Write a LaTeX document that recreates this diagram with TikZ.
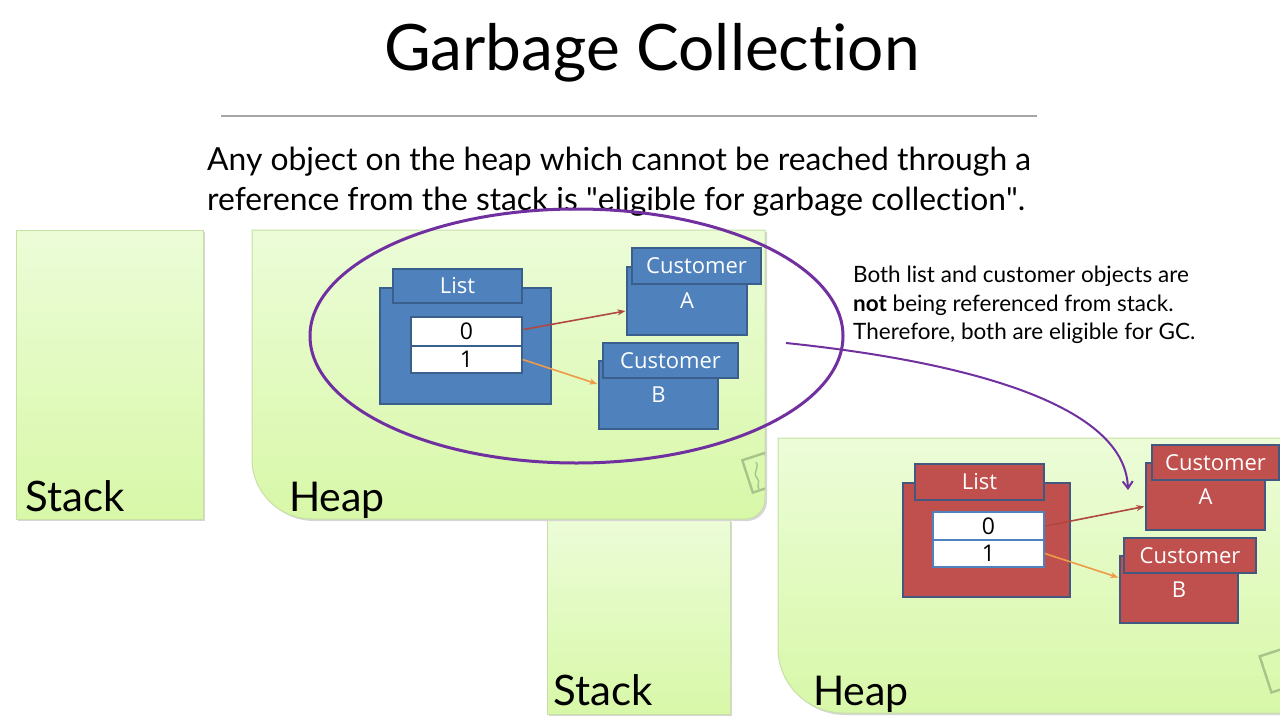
\documentclass[tikz,border=0pt]{standalone}
\usepackage{fontspec}
\setmainfont{Lato}[Ligatures={NoCommon}]
\newfontfamily\boxfont{Open Sans}
\newfontfamily\quotefont{Lato}[Ligatures={TeXOff,NoCommon}]
\usetikzlibrary{arrows.meta}

\definecolor{panelTop}{HTML}{ECFCD8}
\definecolor{panelBottom}{HTML}{D8F8A8}
\definecolor{panelEdge}{HTML}{C6E0A6}
\definecolor{iconGreen}{HTML}{A8C48A}
\definecolor{blueFill}{HTML}{4F81BD}
\definecolor{blueLine}{HTML}{3A5F8C}
\definecolor{redFill}{HTML}{C0504D}
\definecolor{redLine}{HTML}{44577F}
\definecolor{refRed}{HTML}{B0483F}
\definecolor{refOrange}{HTML}{EE9A48}
\definecolor{gcPurple}{HTML}{7030A0}
\definecolor{ruleGray}{HTML}{A6A6A6}

% straight double quote, kept out of the TeX quote mapping
\newcommand{\sq}{{\quotefont\symbol{34}}}

\begin{document}
\begin{tikzpicture}[x=1pt,y=-1pt,
  panel/.style={top color=panelTop,bottom color=panelBottom,draw=panelEdge,line width=1pt},
  panelshadow/.style={fill=black!16},
  icon/.style={draw=iconGreen,line width=2.4pt},
  objtext/.style={text=white,font=\boxfont\fontsize{22}{22}\selectfont},
  bback/.style={draw=blueLine,fill=blueFill,line width=1.3pt,inner sep=0pt,objtext},
  rback/.style={draw=redLine,fill=redFill,line width=1.3pt,inner sep=0pt,objtext},
  bslot/.style={draw=blueLine,fill=white,line width=1.2pt,inner sep=0pt,minimum width=111pt,
    font=\boxfont\fontsize{23}{23}\selectfont},
  rslot/.style={draw=blueFill,fill=white,line width=1.6pt,inner sep=0pt,minimum width=111pt,
    font=\boxfont\fontsize{23}{23}\selectfont},
  ref0/.style={draw=refRed,line width=1.6pt,-{Stealth[length=8pt,width=6pt]}},
  ref1/.style={draw=refOrange,line width=1.6pt,-{Stealth[length=8pt,width=6pt]}},
  paneltitle/.style={font=\fontsize{42}{42}\selectfont,anchor=base west,inner sep=0pt},
  bodytext/.style={font=\fontsize{31.8}{31.8}\selectfont,anchor=base west,inner sep=0pt},
  notetext/.style={font=\fontsize{22.5}{22.5}\selectfont,anchor=base west,inner sep=0pt}
]
\useasboundingbox (0,0) rectangle (1280,720);

% heading and rule
\node[font=\fontsize{64}{64}\selectfont,anchor=base,inner sep=0pt] (title) at (652,70) {Garbage Collection};
\draw[ruleGray,line width=1.5pt] (221,116) -- (1037,116);
\node[bodytext] (line1) at (207,170) {Any object on the heap which cannot be reached through a};
\node[bodytext] (line2) at (207,210) {reference from the stack is \sq eligible for garbage collection\sq.};

% ---------- first memory picture ----------
\fill[panelshadow] (18,232) rectangle (205,521);
\path[panel] (16,230) rectangle (203,519);
\node[paneltitle] (stack1) at (25,511) {Stack};

% second stack sits under the first heap
\fill[panelshadow] (549,522) rectangle (732,716);
\path[panel] (547,520) rectangle (730,714);
\node[paneltitle] (stack2) at (553,705) {Stack};

\fill[panelshadow] (254,232) -- (767,232) -- (767,501) arc[start angle=0,end angle=90,radius=20]
  -- (314,521) arc[start angle=90,end angle=180,radius=60] -- cycle;
\path[panel] (252,230) -- (765,230) -- (765,499) arc[start angle=0,end angle=90,radius=20]
  -- (312,519) arc[start angle=90,end angle=180,radius=60] -- cycle;
\begin{scope}
  \clip (252,230) -- (765,230) -- (765,499) arc[start angle=0,end angle=90,radius=20]
    -- (312,519) arc[start angle=90,end angle=180,radius=60] -- cycle;
  \draw[icon,rotate around={18:(758,473)}] (747,456) rectangle (771,490);
  \draw[icon,line width=1.4pt] (756,462) .. controls (760,468) and (752,472) .. (757,478)
    .. controls (761,482) and (756,486) .. (759,489);
\end{scope}
\node[paneltitle,font=\fontsize{41}{41}\selectfont] (heap1) at (289,511) {Heap};

% blue objects
\node[bback,minimum width=171pt,minimum height=116pt] (bList) at (465.5,346) {};
\node[bback,minimum width=129pt,minimum height=34pt] (bListTab) at (457.5,286) {List};
\node[bslot,minimum height=29pt] (b0) at (466.5,331.5) {0};
\node[bslot,minimum height=27pt] (b1) at (466.5,359.5) {1};

\node[bback,minimum width=120pt,minimum height=68pt] (bA) at (687,301) {A};
\node[bback,minimum width=129pt,minimum height=36pt] (bATab) at (696.5,266) {Customer};
\node[bback,minimum width=119pt,minimum height=68pt] (bB) at (658.5,395) {B};
\node[bback,minimum width=135pt,minimum height=35pt] (bBTab) at (670.5,360.5) {Customer};

\draw[ref0] ([xshift=1pt,yshift=2pt]b0.east) -- ([xshift=-1pt,yshift=-10pt]bA.west);
\draw[ref1] (b1.east) -- ([xshift=-1pt,yshift=11pt]bB.west);

% unreachable group
\draw[gcPurple,line width=3pt] (576.5,336) ellipse[x radius=266.5,y radius=127];

% ---------- second memory picture ----------
\fill[panelshadow] (780,440) -- (1300,440) -- (1300,715) -- (845,715)
  arc[start angle=90,end angle=180,radius=65] -- cycle;
\path[panel] (778,438) -- (1300,438) -- (1300,713) -- (843,713)
  arc[start angle=90,end angle=180,radius=65] -- cycle;
\draw[icon,rotate around={18:(1276,671)}] (1265,652) rectangle (1290,690);
\node[paneltitle,font=\fontsize{41}{41}\selectfont] (heap2) at (813,705) {Heap};

% red objects
\node[rback,minimum width=167pt,minimum height=114pt] (rList) at (986.5,540) {};
\node[rback,minimum width=129pt,minimum height=36pt] (rListTab) at (979.5,482) {List};
\node[rslot,minimum height=28pt] (r0) at (988.5,526) {0};
\node[rslot,minimum height=27pt] (r1) at (988.5,553.5) {1};

\node[rback,minimum width=119pt,minimum height=67pt] (rA) at (1205.5,496.5) {A};
\node[rback,minimum width=127pt,minimum height=35pt] (rATab) at (1215.5,462.5) {Customer};
\node[rback,minimum width=118pt,minimum height=67pt] (rB) at (1179,589.5) {B};
\node[rback,minimum width=132pt,minimum height=35pt] (rBTab) at (1190,555.5) {Customer};

\draw[ref0] ([xshift=1pt]r0.east) -- ([xshift=-1pt,yshift=-10pt]rA.west);
\draw[ref1] (r1.east) -- ([xshift=-1pt,yshift=12pt]rB.west);

% explanation and pointer
\node[notetext] (note1) at (853,282) {Both list and customer objects are};
\node[notetext] (note2) at (853,311) {\textbf{not} being referenced from stack.};
\node[notetext] (note3) at (853,339) {Therefore, both are eligible for GC.};

\coordinate (from) at (786,343);
\coordinate (to) at (1128,490);
\draw[gcPurple,line width=2pt,-{Straight Barb[length=7pt,width=10pt]}]
  (from) .. controls (950,360) and (1125,400) .. (to);
\end{tikzpicture}
\end{document}
